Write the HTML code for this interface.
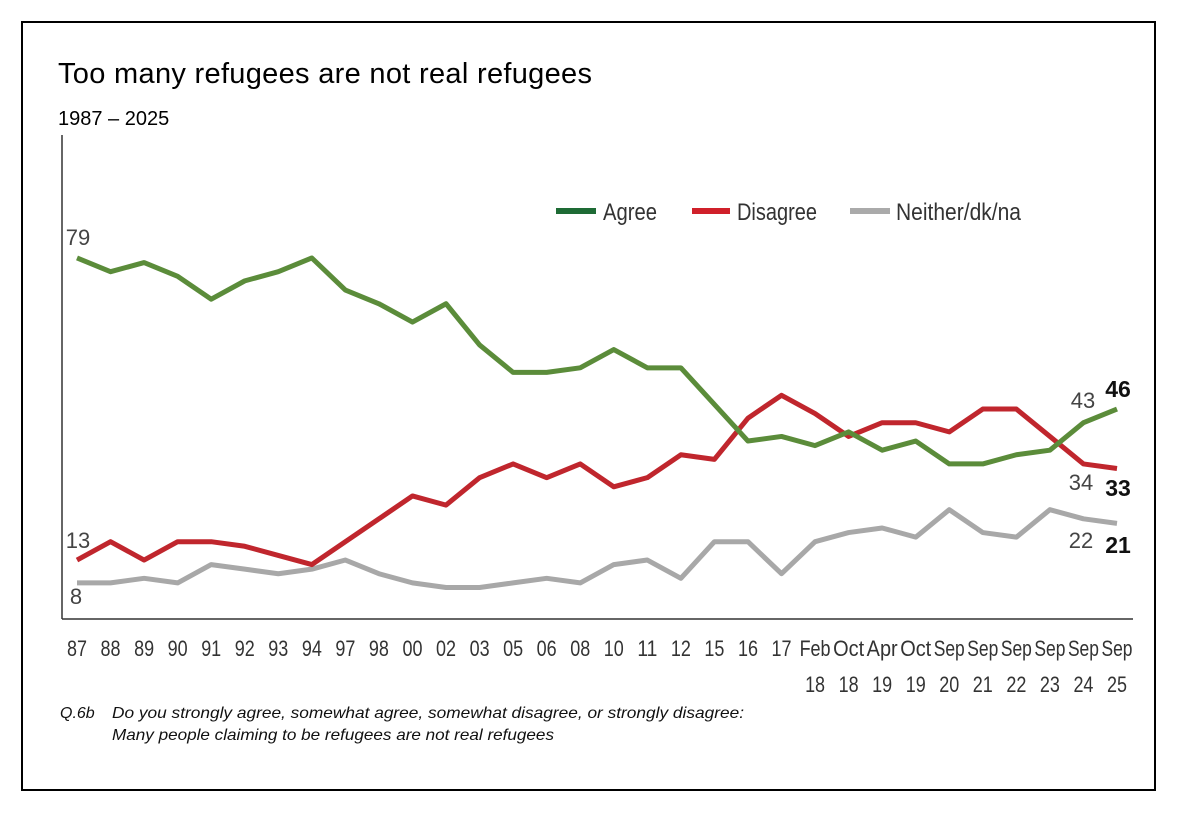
<!DOCTYPE html>
<html><head><meta charset="utf-8"><style>
body{margin:0;background:#fff;width:1178px;height:816px;overflow:hidden}
svg text{font-family:"Liberation Sans",sans-serif}
</style></head><body>
<svg width="1178" height="816">
<rect x="22" y="22" width="1133" height="768" fill="none" stroke="#000" stroke-width="2"/>
<text x="58" y="83" font-size="29" textLength="534">Too many refugees are not real refugees</text>
<text x="58" y="125" font-size="20">1987 – 2025</text>
<line x1="62" y1="135" x2="62" y2="619" stroke="#333" stroke-width="1.5"/>
<line x1="62" y1="619" x2="1133" y2="619" stroke="#333" stroke-width="1.5"/>
<g id="series"></g>
<g id="xlabels" font-size="22" fill="#333" text-anchor="middle"></g>
<g font-size="24" fill="#333">
<rect x="556" y="208" width="40" height="6" fill="#1e6b35"/>
<text x="603" y="220" textLength="54" lengthAdjust="spacingAndGlyphs">Agree</text>
<rect x="692" y="208" width="38" height="6" fill="#d0202a"/>
<text x="737" y="220" textLength="80" lengthAdjust="spacingAndGlyphs">Disagree</text>
<rect x="850" y="208" width="40" height="6" fill="#aaa"/>
<text x="896" y="220" textLength="125" lengthAdjust="spacingAndGlyphs">Neither/dk/na</text>
</g>
<g font-size="22" fill="#444" text-anchor="middle">
<text x="78" y="245">79</text>
<text x="78" y="548">13</text>
<text x="76" y="604">8</text>
<text x="1083" y="408">43</text>
<text x="1081" y="490">34</text>
<text x="1081" y="548">22</text>
</g>
<g font-size="23" font-weight="bold" fill="#111" text-anchor="middle">
<text x="1118" y="397">46</text>
<text x="1118" y="496">33</text>
<text x="1118" y="553">21</text>
</g>
<g font-size="16" font-style="italic" fill="#111">
<text x="60" y="718">Q.6b</text>
<text x="112" y="718" textLength="632" lengthAdjust="spacingAndGlyphs">Do you strongly agree, somewhat agree, somewhat disagree, or strongly disagree:</text>
<text x="112" y="740" textLength="442" lengthAdjust="spacingAndGlyphs">Many people claiming to be refugees are not real refugees</text>
</g>
</svg>
<script>
const cats1=["87","88","89","90","91","92","93","94","97","98","00","02","03","05","06","08","10","11","12","15","16","17","Feb","Oct","Apr","Oct","Sep","Sep","Sep","Sep","Sep","Sep"];
const cats2=["","","","","","","","","","","","","","","","","","","","","","","18","18","19","19","20","21","22","23","24","25"];
const agree=[79,76,78,75,70,74,76,79,72,69,65,69,60,54,54,55,59,55,55,47,39,40,38,41,37,39,34,34,36,37,43,46];
const disagree=[13,17,13,17,17,16,14,12,17,22,27,25,31,34,31,34,29,31,36,35,44,49,45,40,43,43,41,46,46,40,34,33];
const neither=[8,8,9,8,12,11,10,11,13,10,8,7,7,8,9,8,12,13,9,17,17,10,17,19,20,18,24,19,18,24,22,21];
const x=i=>77+i*(1040/31), y=v=>619.5-v*4.576;
const ns="http://www.w3.org/2000/svg";
const g=document.getElementById('series');
[[neither,'#a8a8a8','line-neither'],[disagree,'#c0262d','line-disagree'],[agree,'#5b8c3a','line-agree']].forEach(([d,c,n])=>{
 const p=document.createElementNS(ns,'polyline');
 p.setAttribute('points',d.map((v,i)=>x(i)+','+y(v)).join(' '));
 p.setAttribute('fill','none');p.setAttribute('stroke',c);p.setAttribute('stroke-width','5');p.setAttribute('stroke-linejoin','round');
 
 
 g.appendChild(p);
});
const xl=document.getElementById('xlabels');
cats1.forEach((c,i)=>{
 const t=document.createElementNS(ns,'text');t.setAttribute('x',x(i));t.setAttribute('y',656);t.textContent=c;
 t.setAttribute('textLength',c.length>2?'31':'20');t.setAttribute('lengthAdjust','spacingAndGlyphs');
 
 
 xl.appendChild(t);
 if(cats2[i]){const t2=document.createElementNS(ns,'text');t2.setAttribute('x',x(i));t2.setAttribute('y',692);t2.textContent=cats2[i];
 t2.setAttribute('textLength','20');t2.setAttribute('lengthAdjust','spacingAndGlyphs');
 
 
 xl.appendChild(t2);}
});
</script>
</body></html>
